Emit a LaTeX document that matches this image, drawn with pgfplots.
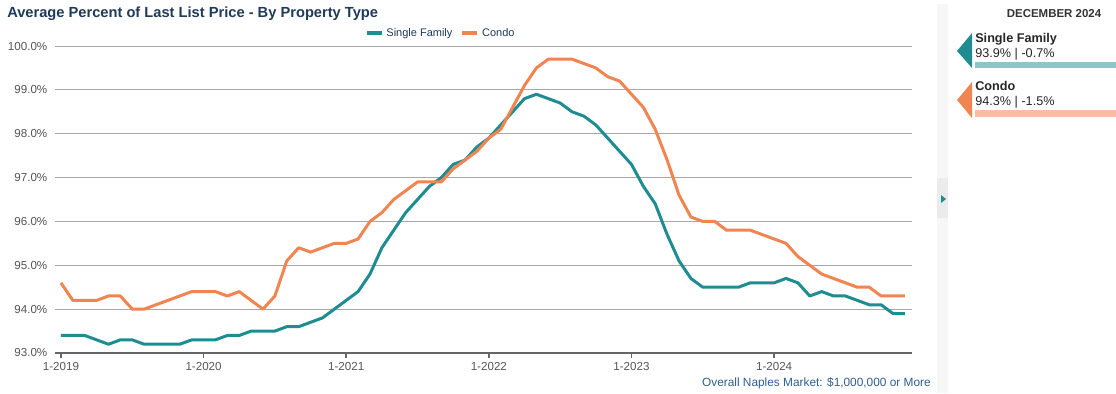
\documentclass[border=0pt]{standalone}
\usepackage{pgfplots}
\pgfplotsset{compat=1.18}
\usepackage{pgfplotstable}
\usepackage{fontspec}
\setmainfont{Liberation Sans}
\definecolor{teal1}{HTML}{1E8C91}
\definecolor{orng}{HTML}{F08552}
\definecolor{tealbar}{HTML}{8CC6C8}
\definecolor{orngbar}{HTML}{F6BFA3}
\definecolor{titlec}{HTML}{1F3A5A}
\definecolor{notec}{HTML}{2E5F8F}
\definecolor{tickc}{HTML}{555555}
\definecolor{gridc}{HTML}{A8A8A8}
\definecolor{axc}{HTML}{666666}

\pgfplotstableread{
m sf
0 93.4
1 93.4
2 93.4
3 93.3
4 93.2
5 93.3
6 93.3
7 93.2
8 93.2
9 93.2
10 93.2
11 93.3
12 93.3
13 93.3
14 93.4
15 93.4
16 93.5
17 93.5
18 93.5
19 93.6
20 93.6
21 93.7
22 93.8
23 94.0
24 94.2
25 94.4
26 94.8
27 95.4
28 95.8
29 96.2
30 96.5
31 96.8
32 97.0
33 97.3
34 97.4
35 97.7
36 97.9
37 98.2
38 98.5
39 98.8
40 98.9
41 98.8
42 98.7
43 98.5
44 98.4
45 98.2
46 97.9
47 97.6
48 97.3
49 96.8
50 96.4
51 95.7
52 95.1
53 94.7
54 94.5
55 94.5
56 94.5
57 94.5
58 94.6
59 94.6
60 94.6
61 94.7
62 94.6
63 94.3
64 94.4
65 94.3
66 94.3
67 94.2
68 94.1
69 94.1
70 93.9
71 93.9
}\sftable

\pgfplotstableread{
m condo
0 94.6
1 94.2
2 94.2
3 94.2
4 94.3
5 94.3
6 94.0
7 94.0
8 94.1
9 94.2
10 94.3
11 94.4
12 94.4
13 94.4
14 94.3
15 94.4
16 94.2
17 94.0
18 94.3
19 95.1
20 95.4
21 95.3
22 95.4
23 95.5
24 95.5
25 95.6
26 96.0
27 96.2
28 96.5
29 96.7
30 96.9
31 96.9
32 96.9
33 97.2
34 97.4
35 97.6
36 97.9
37 98.1
38 98.6
39 99.1
40 99.5
41 99.7
42 99.7
43 99.7
44 99.6
45 99.5
46 99.3
47 99.2
48 98.9
49 98.6
50 98.1
51 97.4
52 96.6
53 96.1
54 96.0
55 96.0
56 95.8
57 95.8
58 95.8
59 95.7
60 95.6
61 95.5
62 95.2
63 95.0
64 94.8
65 94.7
66 94.6
67 94.5
68 94.5
69 94.3
70 94.3
71 94.3
}\condotable

\begin{document}
\begin{tikzpicture}
\useasboundingbox[fill=white] (0,0) rectangle (837pt,294.75pt);
\begin{axis}[
  at={(41.25pt,30pt)}, anchor=south west,
  scale only axis, width=642.75pt, height=230.25pt,
  xmin=-0.5, xmax=71.6, ymin=93, ymax=100,
  axis x line=bottom, axis y line=left,
  x axis line style={draw=axc, line width=1.5pt, -},
  y axis line style={draw=none},
  xtick={0,12,24,36,48,60},
  xticklabels={1-2019,1-2020,1-2021,1-2022,1-2023,1-2024},
  ytick={93,94,95,96,97,98,99,100},
  yticklabels={93.0\%,94.0\%,95.0\%,96.0\%,97.0\%,98.0\%,99.0\%,100.0\%},
  tick align=outside,
  major x tick style={draw=axc, line width=1.2pt},
  major tick length=3.75pt,
  major y tick style={draw=none},
  ymajorgrids, grid style={draw=gridc, line width=0.75pt},
  ticklabel style={font=\fontsize{8.7pt}{10pt}\selectfont, text=tickc},
  yticklabel style={xshift=1.5pt},
  xticklabel style={yshift=0.5pt},
  legend columns=2,
  legend style={at={(0.4504,1.042)}, anchor=center, draw=none, fill=none,
    font=\fontsize{8.25pt}{9pt}\selectfont, text=titlec,
    /tikz/every even column/.append style={column sep=4pt},
    inner sep=0pt},
  legend image code/.code={\draw[line width=3pt] (0pt,0pt) -- (11.25pt,0pt);},
  clip=false,
]
\addplot[teal1, line width=2.25pt, line join=round] table[x=m, y=sf] {\sftable};
\addlegendentry{Single Family}
\addplot[orng, line width=2.25pt, line join=round] table[x=m, y=condo] {\condotable};
\addlegendentry{Condo}
\end{axis}
\begin{scope}[x=0.75pt, y=-0.75pt, yshift=294.75pt]
  % title
  \node[anchor=base west, text=titlec, font=\bfseries\fontsize{11pt}{12pt}\selectfont, inner sep=0pt] at (7,18) {Average Percent of Last List Price - By Property Type};
  % note
  \node[anchor=base east, text=notec, font=\fontsize{8.9pt}{10pt}\selectfont, inner sep=0pt] at (931,386) {Overall Naples Market: \$1,000,000 or More};
  % side strip
  \fill[black!3] (937,4) rectangle (948,393);
  \fill[black!8] (937,178) rectangle (948,218);
  \fill[teal1] (941,195) -- (946,199) -- (941,203) -- cycle;
  % right panel
  \node[anchor=base, text=black!80, font=\bfseries\fontsize{8.6pt}{9pt}\selectfont, inner sep=0pt] at (1054,18) {DECEMBER 2024};
  \fill[teal1] (957,51) -- (972,33) -- (972,68) -- cycle;
  \node[anchor=base west, text=black!85, font=\bfseries\fontsize{9.5pt}{10pt}\selectfont, inner sep=0pt] at (975,43) {Single Family};
  \node[anchor=base west, text=black!85, font=\fontsize{9.5pt}{10pt}\selectfont, inner sep=0pt] at (975,58) {93.9\% | -0.7\%};
  \fill[tealbar] (975,62) rectangle (1116,68);
  \fill[orng] (957,100) -- (972,82) -- (972,118) -- cycle;
  \node[anchor=base west, text=black!85, font=\bfseries\fontsize{9.5pt}{10pt}\selectfont, inner sep=0pt] at (975,91) {Condo};
  \node[anchor=base west, text=black!85, font=\fontsize{9.5pt}{10pt}\selectfont, inner sep=0pt] at (975,106) {94.3\% | -1.5\%};
  \fill[orngbar] (975,110) rectangle (1116,117);
\end{scope}
\end{tikzpicture}
\end{document}
